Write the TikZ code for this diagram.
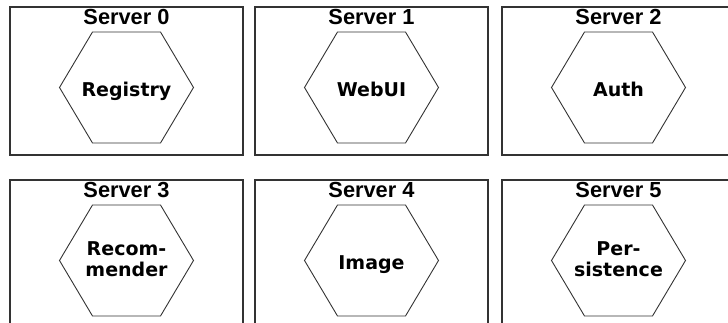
\documentclass[tikz,border=0pt]{standalone}
\usepackage{fontspec}
\newfontfamily\titlefont{Liberation Sans}
\newfontfamily\labfont{DejaVu Sans}
\definecolor{edgegray}{HTML}{333333}
\tikzset{
  srvframe/.style={draw=edgegray, line width=1.4pt},
  hexshape/.style={draw=edgegray, line width=0.9pt},
  srvtitle/.style={anchor=base, inner sep=0pt, font=\titlefont\bfseries\fontsize{21.8}{24}\selectfont},
  srvlabel/.style={anchor=base, inner sep=0pt, align=center, font=\labfont\bfseries\fontsize{19}{21}\selectfont},
}
% #1 id, #2 left x, #3 right x, #4 top y (tikz), #5 title, #6 label line 1, #7 optional label line 2
\newcommand\srvbox[7]{%
  \pgfmathsetmacro\cx{(#2+#3)/2}%
  \pgfmathsetmacro\ty{#4}%
  \draw[srvframe] (#2,#4) rectangle (#3,#4-148) coordinate (#1frame);
  \node[srvtitle] (#1title) at (\cx,#4-18) {#5};
  \pgfmathsetmacro\hy{#4-80.5}%
  \draw[hexshape] (\cx-67,\hy) coordinate (#1w) -- (\cx-34,\hy+55.5) -- (\cx+34,\hy+55.5)
     -- (\cx+67,\hy) coordinate (#1e) -- (\cx+34,\hy-55.5) -- (\cx-34,\hy-55.5) -- cycle;
  \ifx&#7&%
    \node[srvlabel] (#1label) at (\cx,#4-90) {#6};
  \else
    \node[srvlabel] (#1label) at (\cx,#4-76) {#6};
    \node[srvlabel] (#1labelb) at (\cx,#4-97) {#7};
  \fi
}
\begin{document}
\begin{tikzpicture}[x=1pt,y=1pt]
\useasboundingbox (0,0) rectangle (728,323);
\begin{scope}
\clip (0,0) rectangle (728,323);
\srvbox{s0}{10}{243}{316}{Server 0}{Registry}{}
\srvbox{s1}{255}{488}{316}{Server 1}{WebUI}{}
\srvbox{s2}{502}{735}{316}{Server 2}{Auth}{}
\srvbox{s3}{10}{243}{143}{Server 3}{Recom-}{mender}
\srvbox{s4}{255}{488}{143}{Server 4}{Image}{}
\srvbox{s5}{502}{735}{143}{Server 5}{Per-}{sistence}
\end{scope}
\end{tikzpicture}
\end{document}
